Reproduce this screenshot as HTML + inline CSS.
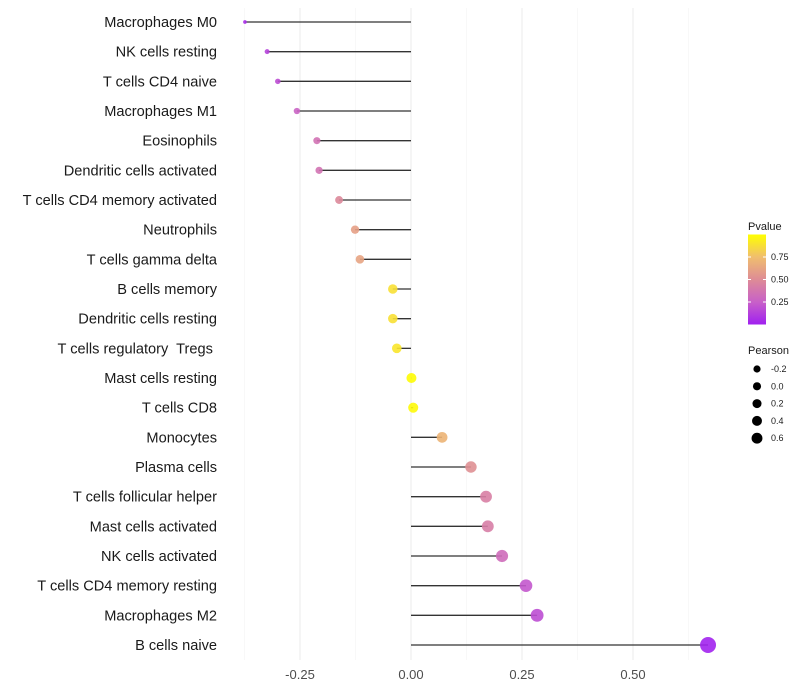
<!DOCTYPE html>
<html><head><meta charset="utf-8"><style>
body{margin:0;background:#fff;}
svg{display:block;font-family:"Liberation Sans",sans-serif;}
text{white-space:pre;}
</style></head><body>
<svg id="chart" width="800" height="700"></svg>
<script>
const categories=["Macrophages M0","NK cells resting","T cells CD4 naive","Macrophages M1","Eosinophils","Dendritic cells activated","T cells CD4 memory activated","Neutrophils","T cells gamma delta","B cells memory","Dendritic cells resting","T cells regulatory  Tregs ","Mast cells resting","T cells CD8","Monocytes","Plasma cells","T cells follicular helper","Mast cells activated","NK cells activated","T cells CD4 memory resting","Macrophages M2","B cells naive"];
const pearson=[-0.374,-0.324,-0.300,-0.257,-0.212,-0.207,-0.162,-0.126,-0.115,-0.041,-0.041,-0.032,0.001,0.005,0.070,0.135,0.169,0.173,0.205,0.259,0.284,0.669];
const pvalue=[0.05,0.14,0.18,0.27,0.35,0.36,0.48,0.60,0.62,0.88,0.88,0.90,0.99,0.98,0.70,0.52,0.43,0.42,0.32,0.22,0.18,0.01];
const xTicks=[-0.25,0,0.25,0.5];
const xTickLabels=["-0.25","0.00","0.25","0.50"];
const pTicks=[0.25,0.5,0.75];
const sizeTicks=[-0.2,0,0.2,0.4,0.6];

const NS="http://www.w3.org/2000/svg";
const svg=document.getElementById('chart');
const x=v=>411+v*444;
const y=i=>22+i*(623/21);
const r=v=>Math.sqrt(Math.max(1.5,25+58*v));
const rl=v=>3.6+(v+0.2)*2.3;
const stops=[[0,[160,32,240]],[0.25,[200,96,200]],[0.5,[222,140,150]],[0.75,[240,190,110]],[1,[255,255,0]]];
function col(p){for(let k=1;k<stops.length;k++){if(p<=stops[k][0]){const a=stops[k-1],b=stops[k];const t=(p-a[0])/(b[0]-a[0]);return 'rgb('+a[1].map((c,j)=>Math.round(c+(b[1][j]-c)*t)).join(',')+')';}}return 'rgb(255,255,0)';}
function el(t,attrs,parent){const e=document.createElementNS(NS,t);for(const k in attrs)e.setAttribute(k,attrs[k]);(parent||svg).appendChild(e);return e;}

[-0.375,-0.125,0.125,0.375,0.625].forEach(v=>{const g=el('line',{x1:x(v),x2:x(v),y1:8,y2:660,stroke:'#f3f3f3','stroke-width':0.6});

});
xTicks.forEach((v,i)=>{const g=el('line',{x1:x(v),x2:x(v),y1:8,y2:660,stroke:'#ebebeb','stroke-width':1});


const t=el('text',{x:x(v),y:679,'text-anchor':'middle','font-size':13,fill:'#4d4d4d'});t.textContent=xTickLabels[i];

});

categories.forEach((c,i)=>{
const t=el('text',{x:217,y:y(i)+5,'text-anchor':'end','font-size':14.6,fill:'#1a1a1a'});t.textContent=c;


const l=el('line',{x1:x(0),x2:x(pearson[i]),y1:y(i),y2:y(i),stroke:'#333','stroke-width':1.3});


const d=el('circle',{cx:x(pearson[i]),cy:y(i),r:r(pearson[i]),fill:col(pvalue[i]),'fill-opacity':0.9});


});

const lt=el('text',{x:748,y:230,'font-size':11,fill:'#1a1a1a'});lt.textContent='Pvalue';


const defs=el('defs',{});const lg=el('linearGradient',{id:'pg',x1:0,y1:1,x2:0,y2:0},defs);
stops.forEach(s=>el('stop',{offset:s[0],'stop-color':col(s[0])},lg));
const cb=el('rect',{x:748,y:234.5,width:18,height:90,fill:'url(#pg)'});


pTicks.forEach(p=>{const yy=324.5-p*90;el('line',{x1:748,x2:751,y1:yy,y2:yy,stroke:'#fff'});el('line',{x1:763,x2:766,y1:yy,y2:yy,stroke:'#fff'});
const t=el('text',{x:771,y:yy+3,'font-size':9,fill:'#1a1a1a'});t.textContent=p.toFixed(2);

});

const st=el('text',{x:748,y:354,'font-size':11,fill:'#1a1a1a'});st.textContent='Pearson';


sizeTicks.forEach((v,i)=>{const yy=369+i*17.3;
const c=el('circle',{cx:757,cy:yy,r:rl(v),fill:'#000'});


const t=el('text',{x:771,y:yy+3,'font-size':9,fill:'#1a1a1a'});t.textContent=v===0?'0.0':v.toFixed(1);

});
</script>
</body></html>
